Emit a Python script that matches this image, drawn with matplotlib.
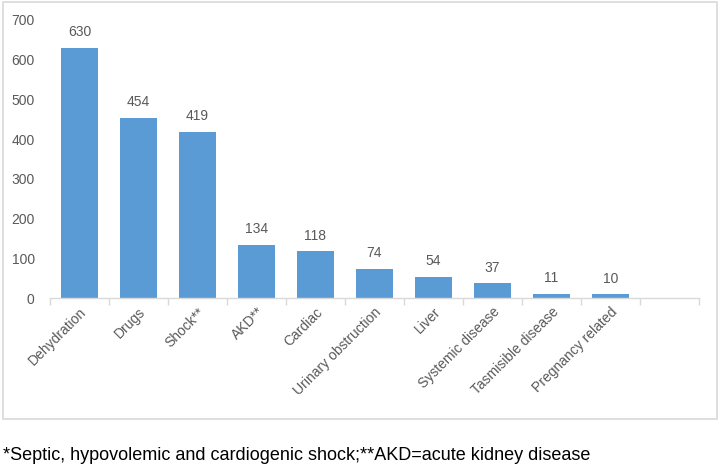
import matplotlib
matplotlib.use('Agg')
import matplotlib.pyplot as plt
import numpy as np

categories = ['Dehydration', 'Drugs', 'Shock**', 'AKD**', 'Cardiac',
              'Urinary obstruction', 'Liver', 'Systemic disease',
              'Tasmisible disease', 'Pregnancy related']
counts = [630, 454, 419, 134, 118, 74, 54, 37, 11, 10]
yticks = [0, 100, 200, 300, 400, 500, 600, 700]
footnote = '*Septic, hypovolemic and cardiogenic shock;**AKD=acute kidney disease'

plt.rcParams['font.family'] = ['Liberation Sans', 'DejaVu Sans']
grey = '#595959'
line = '#D9D9D9'

fig = plt.figure(figsize=(7.2, 4.69), dpi=100)
# chart frame
fig.patches.append(plt.Rectangle((0.004, 0.107), 0.992, 0.889, transform=fig.transFigure,
                                 fill=False, edgecolor=line, linewidth=1.2))
ax = fig.add_axes([0.0694, 0.3646, 0.9014, 0.5928])

x = np.arange(len(categories))
bars = ax.bar(x, counts, width=0.63, color='#5B9BD5')
for b, v in zip(bars, counts):
    ax.annotate(str(v), (b.get_x() + b.get_width() / 2, v), xytext=(0, 6),
                textcoords='offset points', ha='center', va='bottom',
                fontsize=10, color=grey)

ax.set_xlim(-0.5, len(categories) + 0.5)
ax.set_ylim(0, 700)
ax.set_yticks(yticks)
ax.tick_params(axis='y', length=0, labelsize=10, labelcolor=grey, pad=11)
ax.set_xticks(x)
ax.set_xticklabels(categories, rotation=45, ha='right', rotation_mode='anchor')
ax.set_xticks(np.arange(-0.5, len(categories) + 1, 1), minor=True)
ax.tick_params(axis='x', which='major', length=0, labelsize=10, labelcolor=grey, pad=5)
ax.tick_params(axis='x', which='minor', length=5, color=line, width=1)
for s in ['top', 'right', 'left']:
    ax.spines[s].set_visible(False)
ax.spines['bottom'].set_color(line)
ax.spines['bottom'].set_linewidth(1)

fig.text(0.004, 0.028, footnote, fontsize=13, color='black', ha='left', va='center')

fig.savefig('out.png', dpi=100)
